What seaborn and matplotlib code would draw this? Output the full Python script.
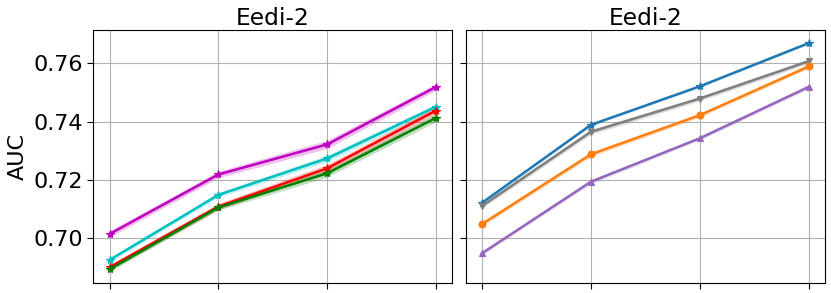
import numpy as np
import pandas as pd
import matplotlib
matplotlib.use("Agg")
import matplotlib.pyplot as plt
import seaborn as sns

x_vals = [1, 2, 3, 4]

# Left panel series (mean AUC and band half-width)
left_names = ["m", "c", "r", "g"]
left_colors = ["m", "c", "r", "g"]
left_means = [
    [0.7015, 0.7219, 0.7322, 0.7519],
    [0.6926, 0.7149, 0.7274, 0.7451],
    [0.6901, 0.7109, 0.7240, 0.7438],
    [0.6894, 0.7106, 0.7223, 0.7413],
]
left_err = [
    [0.0011, 0.0011, 0.0014, 0.0011],
    [0.0007, 0.0008, 0.0011, 0.0010],
    [0.0009, 0.0011, 0.0013, 0.0013],
    [0.0008, 0.0009, 0.0013, 0.0013],
]

# Right panel series
right_names = ["blue", "gray", "orange", "purple"]
right_colors = ["tab:blue", "tab:gray", "tab:orange", "tab:purple"]
right_markers = ["*", "v", "o", "^"]
right_means = [
    [0.7122, 0.7389, 0.7521, 0.7669],
    [0.7111, 0.7365, 0.7479, 0.7607],
    [0.7049, 0.7288, 0.7422, 0.7589],
    [0.6949, 0.7194, 0.7343, 0.7519],
]
right_err = [
    [0.0004, 0.0004, 0.0004, 0.0004],
    [0.0008, 0.0009, 0.0008, 0.0008],
    [0.0008, 0.0008, 0.0007, 0.0007],
    [0.0006, 0.0007, 0.0006, 0.0007],
]

sns.set_style("white")
plt.rcParams["font.family"] = ["DejaVu Sans"]
for k in ["text.color", "axes.labelcolor", "xtick.color", "ytick.color"]:
    plt.rcParams[k] = "black"

fig = plt.figure(figsize=(8.31, 2.93), dpi=100)
ax1 = fig.add_axes([93.3 / 831, 10 / 293, 359 / 831, 253 / 293])
ax2 = fig.add_axes([465.7 / 831, 10 / 293, 359.3 / 831, 253 / 293], sharey=ax1)


def draw(ax, names, colors, markers, means, errs):
    for name, col, mk, mu, er in zip(names, colors, markers, means, errs):
        mu = np.array(mu)
        er = np.array(er)
        df = pd.DataFrame({"x": x_vals, "y": mu})
        sns.lineplot(data=df, x="x", y="y", ax=ax, color=col, marker=mk,
                     markersize=6 if mk == "*" else 5, markeredgecolor=col,
                     markeredgewidth=0.8, linewidth=1.8, errorbar=None)
        ax.fill_between(x_vals, mu - er, mu + er, color=col, alpha=0.25, linewidth=0)


draw(ax1, left_names, left_colors, ["*"] * 4, left_means, left_err)
draw(ax2, right_names, right_colors, right_markers, right_means, right_err)

for ax in (ax1, ax2):
    ax.set_title("Eedi-2", fontsize=16.8, pad=3)
    ax.grid(True, color="#b0b0b0", linewidth=0.8)
    ax.set_xticks(x_vals)
    ax.tick_params(axis="both", which="both", direction="out", length=4, width=0.8,
                   labelsize=16, bottom=True, left=True, labelbottom=False)
    ax.set_xlabel("")
    for s in ax.spines.values():
        s.set_color("black")
        s.set_linewidth(0.8)

ax1.set_ylim(0.6847, 0.7714)
ax1.set_yticks([0.70, 0.72, 0.74, 0.76])
ax1.set_yticklabels(["0.70", "0.72", "0.74", "0.76"])
ax1.set_ylabel("AUC", fontsize=16)
ax2.set_ylabel("")
ax2.tick_params(labelleft=False)

fig.savefig("out.png", dpi=100)
